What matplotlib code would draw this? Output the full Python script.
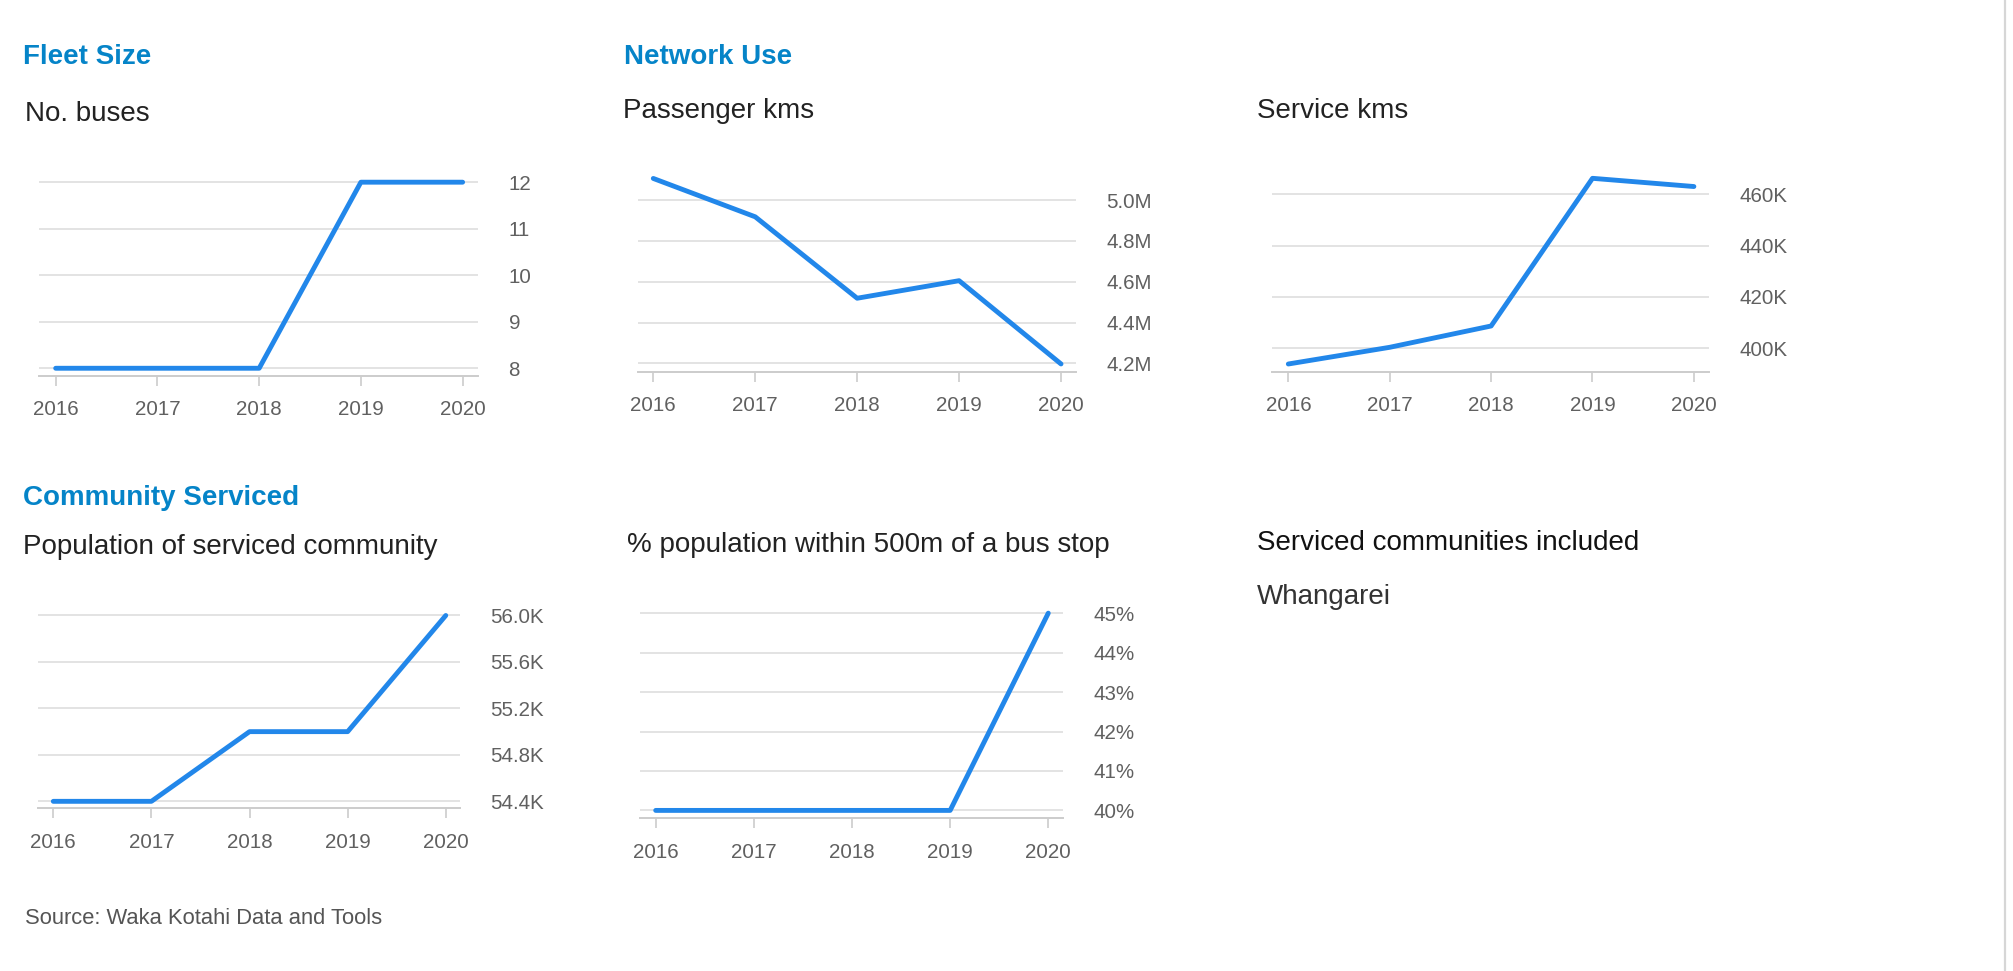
import matplotlib
matplotlib.use("Agg")
from matplotlib import pyplot as plt
from matplotlib.ticker import FuncFormatter

plt.rcParams['font.family'] = ['Liberation Sans', 'DejaVu Sans']

# data
years = [2016, 2017, 2018, 2019, 2020]
fleet_size = [8, 8, 8, 12, 12]
passenger_kms = [5.106e6, 4.918e6, 4.519e6, 4.605e6, 4.197e6]
service_kms = [393.9e3, 400.4e3, 408.7e3, 466.2e3, 463.0e3]
population = [54.4e3, 54.4e3, 55.0e3, 55.0e3, 56.0e3]
pct_near_stop = [40, 40, 40, 40, 45]

fleet_ticks = [8, 9, 10, 11, 12]
passenger_ticks = [4.2e6, 4.4e6, 4.6e6, 4.8e6, 5.0e6]
service_ticks = [400e3, 420e3, 440e3, 460e3]
population_ticks = [54.4e3, 54.8e3, 55.2e3, 55.6e3, 56.0e3]
pct_ticks = [40, 41, 42, 43, 44, 45]

W, H = 2013, 971
LINE = '#2287ea'
TITLE = '#0584c8'
GRID = '#dedede'
LABEL = '#606060'

fig = plt.figure(figsize=(W / 100, H / 100), dpi=100)


def make_axes(left, right, top, bottom):
    # pixel box -> figure fraction
    return fig.add_axes([left / W, 1 - bottom / H, (right - left) / W, (bottom - top) / H])


def draw_panel(box, values, ticks, ylim, xlim, fmt):
    ax = make_axes(*box)
    ax.plot(years, values, color=LINE, lw=3.5, solid_capstyle='round',
            solid_joinstyle='round', clip_on=False, zorder=3)
    ax.set_xlim(*xlim)
    ax.set_ylim(*ylim)
    ax.set_xticks(years)
    ax.set_yticks(ticks)
    ax.yaxis.set_major_formatter(FuncFormatter(fmt))
    ax.yaxis.tick_right()
    ax.grid(axis='y', color=GRID, lw=1.2)
    ax.set_axisbelow(True)
    for s in ['top', 'left', 'right']:
        ax.spines[s].set_visible(False)
    ax.spines['bottom'].set_color('#cccccc')
    ax.spines['bottom'].set_linewidth(1.4)
    ax.tick_params(axis='x', length=7, width=1.2, color='#cccccc', pad=10.5,
                   labelsize=14.8, labelcolor=LABEL)
    ax.tick_params(axis='y', length=0, pad=22, labelsize=14.8, labelcolor=LABEL)
    return ax


draw_panel((39, 478, 178, 375.7), fleet_size, fleet_ticks, (7.84, 12.09),
           (2015.836, 2020.151), lambda v, p: f"{v:.0f}")
draw_panel((637.7, 1076, 176, 371.7), passenger_kms, passenger_ticks, (4.159e6, 5.118e6),
           (2015.847, 2020.147), lambda v, p: f"{v / 1e6:.1f}M")
draw_panel((1271.7, 1709.3, 176, 371.7), service_kms, service_ticks, (390.9e3, 467.1e3),
           (2015.836, 2020.152), lambda v, p: f"{v / 1e3:.0f}K")
draw_panel((37.7, 460, 612, 808.3), population, population_ticks, (54.34e3, 56.03e3),
           (2015.841, 2020.145), lambda v, p: f"{v / 1e3:.1f}K")
draw_panel((640, 1062.7, 610, 818.3), pct_near_stop, pct_ticks, (39.80, 45.08),
           (2015.84, 2020.147), lambda v, p: f"{v:.0f}%")


def label(x, y, s, **kw):
    fig.text(x / W, 1 - y / H, s, va='center', ha='left', **kw)


label(23, 57, 'Fleet Size', fontsize=20, fontweight='bold', color=TITLE)
label(624, 57, 'Network Use', fontsize=20, fontweight='bold', color=TITLE)
label(23, 498, 'Community Serviced', fontsize=20, fontweight='bold', color=TITLE)

label(25, 114, 'No. buses', fontsize=20, color='#222222')
label(623, 111, 'Passenger kms', fontsize=20, color='#222222')
label(1257, 111, 'Service kms', fontsize=20, color='#222222')
label(23, 547, 'Population of serviced community', fontsize=20, color='#222222')
label(627, 545, '% population within 500m of a bus stop', fontsize=20, color='#222222')
label(1257, 543, 'Serviced communities included', fontsize=20, color='#111111')
label(1257, 597, 'Whangarei', fontsize=20, color='#333333')
label(25, 918, 'Source: Waka Kotahi Data and Tools', fontsize=15.8, color='#555555')

# frame edge on the right
fig.add_artist(plt.Line2D([2005 / W, 2005 / W], [0, 1], color='#d6d6d6', lw=1.6))

fig.savefig('out.png', dpi=100)
